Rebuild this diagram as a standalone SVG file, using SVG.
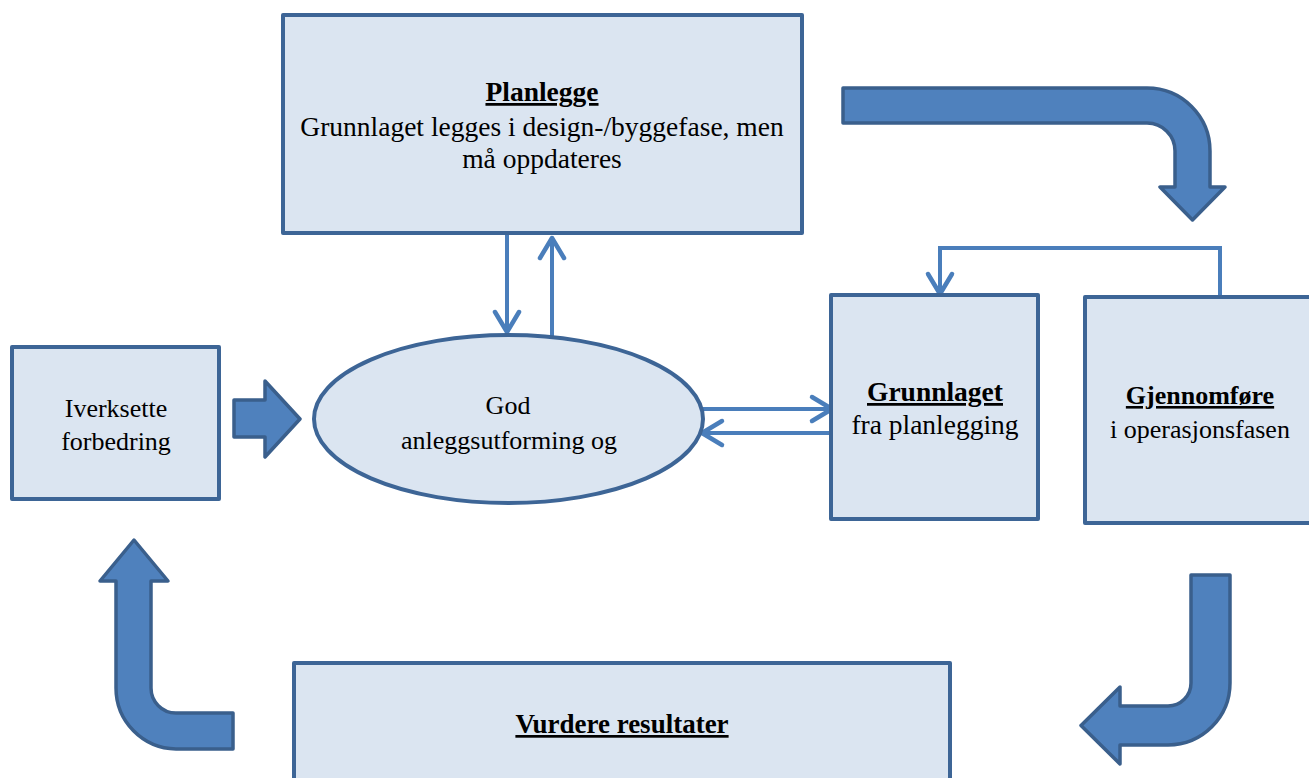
<svg xmlns="http://www.w3.org/2000/svg" width="1309" height="778" viewBox="0 0 1309 778">
<defs>
<style>
.box{fill:#dbe5f1;stroke:#3d6596;stroke-width:4;stroke-linejoin:round}
.blk{fill:#4f81bd;stroke:#3a5f8c;stroke-width:3.5;stroke-linejoin:round}
.con{fill:none;stroke:#4a7ebb;stroke-width:4}
text{font-family:"Liberation Serif","Times New Roman",serif;font-size:26px;fill:#000;text-anchor:middle}
.b{font-weight:bold;text-decoration:underline}
.l{font-size:27.5px}
.m{font-size:27px}
</style>
<marker id="v" markerUnits="userSpaceOnUse" markerWidth="32" markerHeight="32" viewBox="-24 -16 32 32" refX="0" refY="0" orient="auto">
<path d="M-20,-12 L0,0 L-20,12" fill="none" stroke="#4a7ebb" stroke-width="4.5" stroke-linecap="round" stroke-linejoin="round"/>
</marker>
</defs>
<rect width="1309" height="778" fill="#ffffff"/>

<g id="connectors">
<path class="con" d="M507,235 V332" marker-end="url(#v)"/>
<path class="con" d="M552,338 V238" marker-end="url(#v)"/>
<path class="con" d="M702,409 H832" marker-end="url(#v)"/>
<path class="con" d="M838,433 H702" marker-end="url(#v)"/>
<path class="con" d="M1220,297 V248 H940 V294" marker-end="url(#v)"/>
<path class="blk" d="M843,88 H1147 A63,63 0 0 1 1210,151 V187 H1225 L1192.5,220 L1160,187 H1175 V151 A28,28 0 0 0 1147,123 H843 Z"/>
<path class="blk" d="M1191,575 H1230 V683 A62,62 0 0 1 1168,745 H1120 V764 L1081,725.5 L1120,687 V706 H1168 A23,23 0 0 0 1191,683 Z"/>
<path class="blk" d="M233,713 V749 H176 A61,61 0 0 1 116,688 V581 H100 L134,540 L168,581 H151 V688 A25,25 0 0 0 176,713 Z"/>
<path class="blk" d="M234,400 H265 V381 L300,419 L265,457 V437 H234 Z"/>
</g>

<g id="planlegge">
<rect class="box" x="283" y="15" width="519" height="218"/>
<text class="b l" x="542" y="101">Planlegge</text>
<text class="l" x="542" y="136">Grunnlaget legges i design-/byggefase, men</text>
<text class="l" x="542" y="168">må oppdateres</text>
</g>

<g id="iverksette">
<rect class="box" x="12" y="347" width="207" height="152"/>
<text x="116" y="417">Iverksette</text>
<text x="116" y="450">forbedring</text>
</g>

<g id="god">
<ellipse class="box" cx="508.5" cy="419" rx="194.5" ry="84"/>
<text x="508" y="414">God</text>
<text x="509" y="449">anleggsutforming og</text>
</g>

<g id="grunnlaget">
<rect class="box" x="831" y="295" width="207" height="224"/>
<text class="b l" x="935" y="401">Grunnlaget</text>
<text class="l" x="935" y="434">fra planlegging</text>
</g>

<g id="gjennomfore">
<rect class="box" x="1085" y="297" width="240" height="226"/>
<text class="b" x="1200" y="404">Gjennomføre</text>
<text x="1200" y="438">i operasjonsfasen</text>
</g>

<g id="vurdere">
<rect class="box" x="294" y="663" width="656" height="130"/>
<text class="b m" x="622" y="733">Vurdere resultater</text>
</g>
</svg>
